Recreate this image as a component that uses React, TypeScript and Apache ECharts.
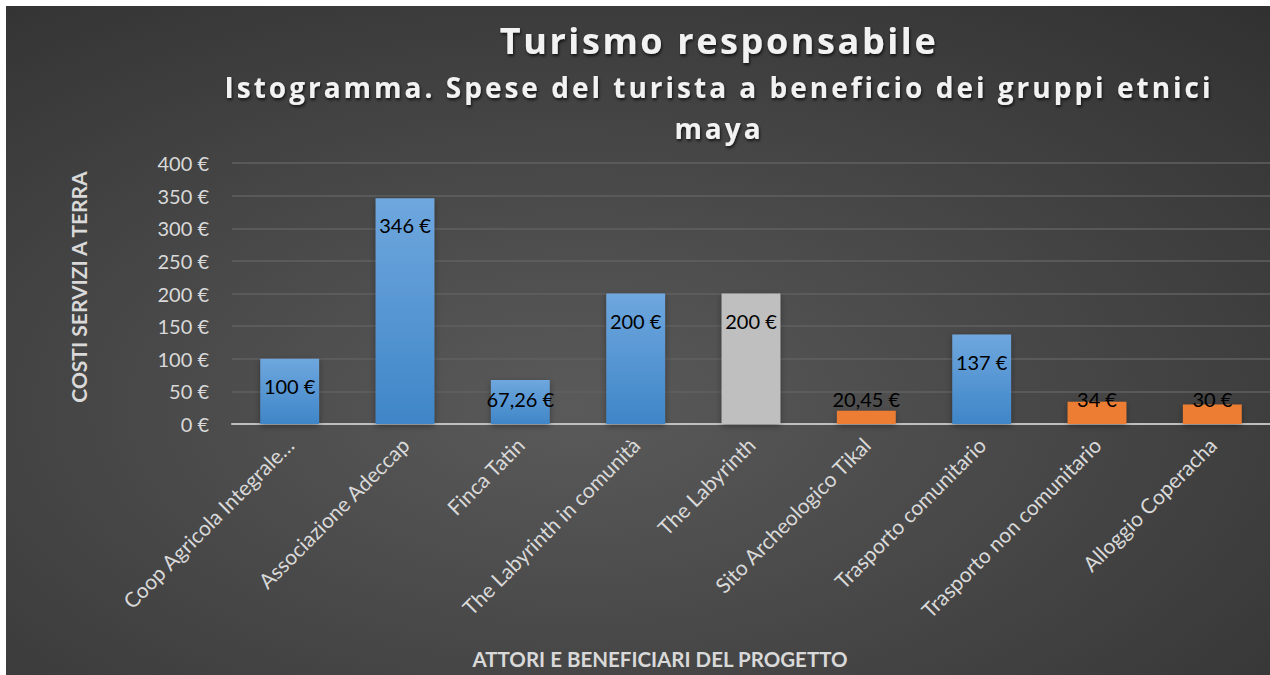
import React, { useEffect, useRef } from "react";
import * as echarts from "echarts";

const categories = [
  "Coop Agricola Integrale…",
  "Associazione Adeccap",
  "Finca Tatin",
  "The Labyrinth in comunità",
  "The Labyrinth",
  "Sito Archeologico Tikal",
  "Trasporto comunitario",
  "Trasporto non comunitario",
  "Alloggio Coperacha",
];
const values = [100, 346, 67.26, 200, 200, 20.45, 137, 34, 30];
const groups = ["blue", "blue", "blue", "blue", "grey", "orange", "blue", "orange", "orange"];
const yTicks = [0, 50, 100, 150, 200, 250, 300, 350, 400];

const titleText = "Turismo responsabile";
const subtitleText = "Istogramma. Spese del turista a beneficio dei gruppi etnici\nmaya";
const yAxisTitle = "COSTI SERVIZI A TERRA";
const xAxisTitle = "ATTORI E BENEFICIARI DEL PROGETTO";

const fmtEuro = (v: number) => String(v).replace(".", ",") + " €";

const colorFor = (g: string) => {
  if (g === "grey") return "#bfbfbf";
  if (g === "orange") return "#ed7d31";
  return new echarts.graphic.LinearGradient(0, 0, 0, 1, [
    { offset: 0, color: "#6fa7de" },
    { offset: 1, color: "#3f86c8" },
  ]);
};

const css = `
#chart-root text[style*="36px"] { letter-spacing: 2.6px; }
#chart-root text[style*="28px"] { letter-spacing: 3px; }
`;

export default function App() {
  const ref = useRef<HTMLDivElement>(null);
  useEffect(() => {
    document.body.style.margin = "0";
    const chart = echarts.init(ref.current!, null, { renderer: "svg" });
    const font = "Lato, 'Open Sans', sans-serif";
    const data = values.map((v, i) => ({
      value: v,
      itemStyle: { color: colorFor(groups[i]) },
      label:
        v < 80
          ? { position: "insideBottom", distance: 15 }
          : { position: "insideTop", distance: 17 },
    }));
    const shadow = {
      textShadowColor: "rgba(0,0,0,0.7)",
      textShadowBlur: 3,
      textShadowOffsetX: 1,
      textShadowOffsetY: 2,
    };
    chart.setOption({
      animation: false,
      backgroundColor: "#ffffff",
      title: [
        {
          text: titleText,
          left: 719,
          top: 20,
          textAlign: "center",
          padding: 0,
          textStyle: {
            color: "#f2f2f2",
            fontFamily: "'Open Sans', sans-serif",
            fontWeight: "bold",
            fontSize: 36,
            lineHeight: 40,
            ...shadow,
          },
        },
        {
          text: subtitleText,
          left: 719,
          top: 66,
          textAlign: "center",
          padding: 0,
          textStyle: {
            color: "#f2f2f2",
            fontFamily: "'Open Sans', sans-serif",
            fontWeight: "bold",
            fontSize: 28,
            lineHeight: 41,
            ...shadow,
          },
        },
      ],
      graphic: [
        {
          type: "rect",
          z: -10,
          silent: true,
          shape: { x: 6, y: 6, width: 1264, height: 669 },
          style: {
            fill: {
              type: "radial",
              x: 0.45,
              y: 0.6,
              r: 1.05,
              colorStops: [
                { offset: 0, color: "#5a5a5a" },
                { offset: 1, color: "#252525" },
              ],
            },
          },
        },
        {
          type: "text",
          x: 78,
          y: 287,
          rotation: Math.PI / 2,
          style: {
            text: yAxisTitle,
            textAlign: "center",
            textVerticalAlign: "middle",
            fill: "#d9d9d9",
            font: "bold 21px Lato, 'Open Sans', sans-serif",
          },
        },
        {
          type: "text",
          x: 660,
          y: 659,
          style: {
            text: xAxisTitle,
            textAlign: "center",
            textVerticalAlign: "middle",
            fill: "#d9d9d9",
            font: "bold 20.5px Lato, 'Open Sans', sans-serif",
          },
        },
      ],
      grid: { left: 232, right: 0, top: 163, bottom: 251, containLabel: false },
      xAxis: {
        type: "category",
        data: categories,
        axisTick: { show: false },
        axisLine: { lineStyle: { color: "#bfbfbf", width: 2 } },
        axisLabel: {
          interval: 0,
          rotate: 45,
          color: "#d9d9d9",
          fontFamily: font,
          fontSize: 21,
          margin: 17,
        },
      },
      yAxis: {
        type: "value",
        min: 0,
        max: 400,
        interval: 50,
        axisLine: { show: false },
        axisTick: { show: false },
        splitLine: { lineStyle: { color: "#606060", width: 1.5 } },
        axisLabel: {
          color: "#d9d9d9",
          fontFamily: font,
          fontSize: 20,
          margin: 23,
          formatter: (v: number) => (yTicks.includes(v) ? v + " €" : ""),
        },
      },
      series: [
        {
          type: "bar",
          data,
          barCategoryGap: "49%",
          itemStyle: {
            shadowColor: "rgba(0,0,0,0.35)",
            shadowBlur: 6,
            shadowOffsetY: 2,
          },
          label: {
            show: true,
            color: "#000000",
            fontFamily: font,
            fontSize: 20,
            formatter: (p: any) => fmtEuro(p.value),
          },
        },
      ],
    });
    return () => chart.dispose();
  }, []);
  return (
    <>
      <style>{css}</style>
      <div
        id="chart-root"
        ref={ref}
        style={{ position: "absolute", left: 0, top: 0, width: 1270, height: 675 }}
      />
    </>
  );
}
